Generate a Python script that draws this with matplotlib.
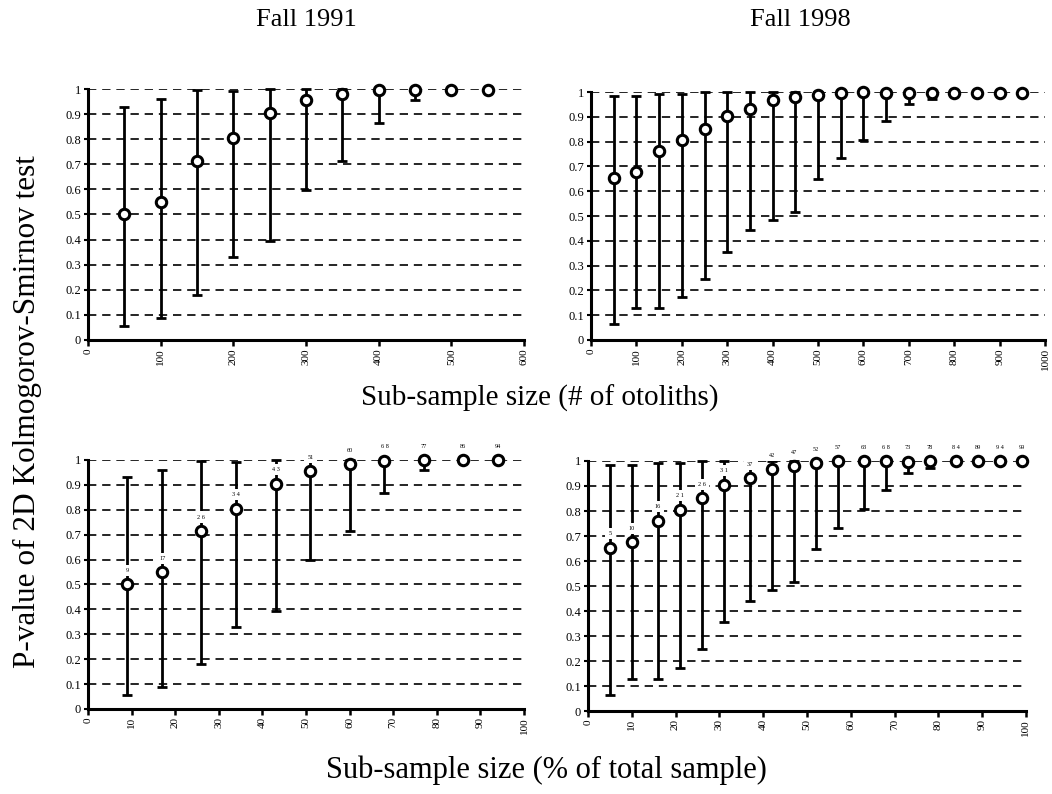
import numpy as np
import matplotlib
matplotlib.use("Agg")
import matplotlib.pyplot as plt

plt.rcParams['font.family'] = ['Liberation Serif', 'DejaVu Serif']

# Fall 1991 (# of otoliths)
x91 = [50, 100, 150, 200, 250, 300, 350, 400, 450, 500, 550]
pct91 = [9, 17, 26, 34, 43, 51, 60, 68, 77, 86, 94]
pct91_labels = ["9", "17", "2 6", "3 4", "4 3", "51", "60", "6 8", "77", "86", "94"]
mean91 = [0.50, 0.55, 0.715, 0.805, 0.905, 0.955, 0.982, 0.997, 0.998, 0.998, 0.998]
low91 = [0.055, 0.088, 0.18, 0.33, 0.395, 0.598, 0.713, 0.866, 0.958, 0.99, 0.992]
high91 = [0.93, 0.96, 0.995, 0.993, 1.0, 1.0, 1.0, 1.0, 1.0, 1.0, 1.0]

# Fall 1998
x98 = [50, 100, 150, 200, 250, 300, 350, 400, 450, 500,
       550, 600, 650, 700, 750, 800, 850, 900, 950]
pct98 = [5, 10, 16, 21, 26, 31, 37, 42, 47, 52, 57, 63, 68, 73, 78, 84, 89, 94, 99]
pct98_labels = ["5", "10", "16", "2 1", "2 6", "3 1", "37", "42", "47", "52",
                "57", "63", "6 8", "73", "78", "8 4", "89", "9 4", "99"]
mean98 = [0.653, 0.676, 0.762, 0.805, 0.852, 0.905, 0.93, 0.967, 0.98, 0.99,
          0.998, 0.999, 0.998, 0.997, 0.998, 0.998, 0.998, 0.998, 0.998]
low98 = [0.065, 0.128, 0.128, 0.173, 0.247, 0.355, 0.442, 0.485, 0.518, 0.649,
         0.734, 0.808, 0.885, 0.95, 0.973, 0.99, 0.993, 0.994, 0.995]
high98 = [0.984, 0.984, 0.993, 0.993, 1.0, 1.0, 1.0, 1.0, 1.0, 1.0,
          1.0, 1.0, 1.0, 1.0, 1.0, 1.0, 1.0, 1.0, 1.0]

yticks = np.round(np.arange(0, 1.01, 0.1), 1)
ytick_labels = ["0", "0.1", "0.2", "0.3", "0.4", "0.5", "0.6", "0.7", "0.8", "0.9", "1"]


def draw_panel(ax, x, mean, low, high, xmax, xstep, labels=None):
    mean = np.array(mean)
    err = [mean - np.array(low), np.array(high) - mean]
    for y in yticks[1:]:
        ax.axhline(y, color='black', lw=1.2, ls=(0, (5, 3.5)), zorder=1)
    ax.errorbar(x, mean, yerr=err, fmt='none', ecolor='black', elinewidth=2.0,
                capsize=3.5, capthick=2.0, zorder=2, clip_on=False)
    ax.plot(x, mean, 'o', ms=7.5, mfc='white', mec='black', mew=2.2,
            zorder=5, clip_on=False)
    if labels is not None:
        for xi, yi, lab in zip(x, mean, labels):
            ax.annotate(lab, (xi, yi), xytext=(0, 10), textcoords='offset points',
                        ha='center', va='center', fontsize=4.5,
                        bbox=dict(fc='white', ec='none', pad=2.2),
                        annotation_clip=False, zorder=4)
    ax.set_xlim(0, xmax)
    ax.set_ylim(0, 1)
    ax.set_xticks(np.arange(0, xmax + 1, xstep))
    ax.set_yticks(yticks)
    ax.set_yticklabels(ytick_labels)
    ax.tick_params(axis='x', labelrotation=90, labelsize=8, width=1.8,
                   length=4, direction='out', pad=2)
    ax.tick_params(axis='y', labelsize=9, width=1.5, length=3, pad=2)
    for s in ['top', 'right']:
        ax.spines[s].set_visible(False)
    for s in ['left', 'bottom']:
        ax.spines[s].set_linewidth(2.2)


fig = plt.figure(figsize=(10.52, 7.94), dpi=100)
ax1 = fig.add_axes([0.0837, 0.5718, 0.4144, 0.3161])
ax2 = fig.add_axes([0.5618, 0.5718, 0.4316, 0.3123])
ax3 = fig.add_axes([0.0837, 0.1071, 0.4144, 0.3136])
ax4 = fig.add_axes([0.5589, 0.1045, 0.4163, 0.3149])

draw_panel(ax1, x91, mean91, low91, high91, 600, 100)
draw_panel(ax2, x98, mean98, low98, high98, 1000, 100)
draw_panel(ax3, pct91, mean91, low91, high91, 100, 10, pct91_labels)
draw_panel(ax4, pct98, mean98, low98, high98, 100, 10, pct98_labels)

fig.text(306 / 1052, 1 - 20 / 794, "Fall 1991", ha='center', va='center', fontsize=19)
fig.text(800 / 1052, 1 - 20 / 794, "Fall 1998", ha='center', va='center', fontsize=19)
fig.text(540 / 1052, 1 - 398 / 794, "Sub-sample size (# of otoliths)",
         ha='center', va='center', fontsize=21)
fig.text(546 / 1052, 1 - 770 / 794, "Sub-sample size (% of total sample)",
         ha='center', va='center', fontsize=22)
fig.text(27 / 1052, 1 - 412 / 794, "P-value of 2D Kolmogorov-Smirnov test", rotation=90,
         ha='center', va='center', fontsize=22.5)

fig.savefig("out.png", dpi=100)
